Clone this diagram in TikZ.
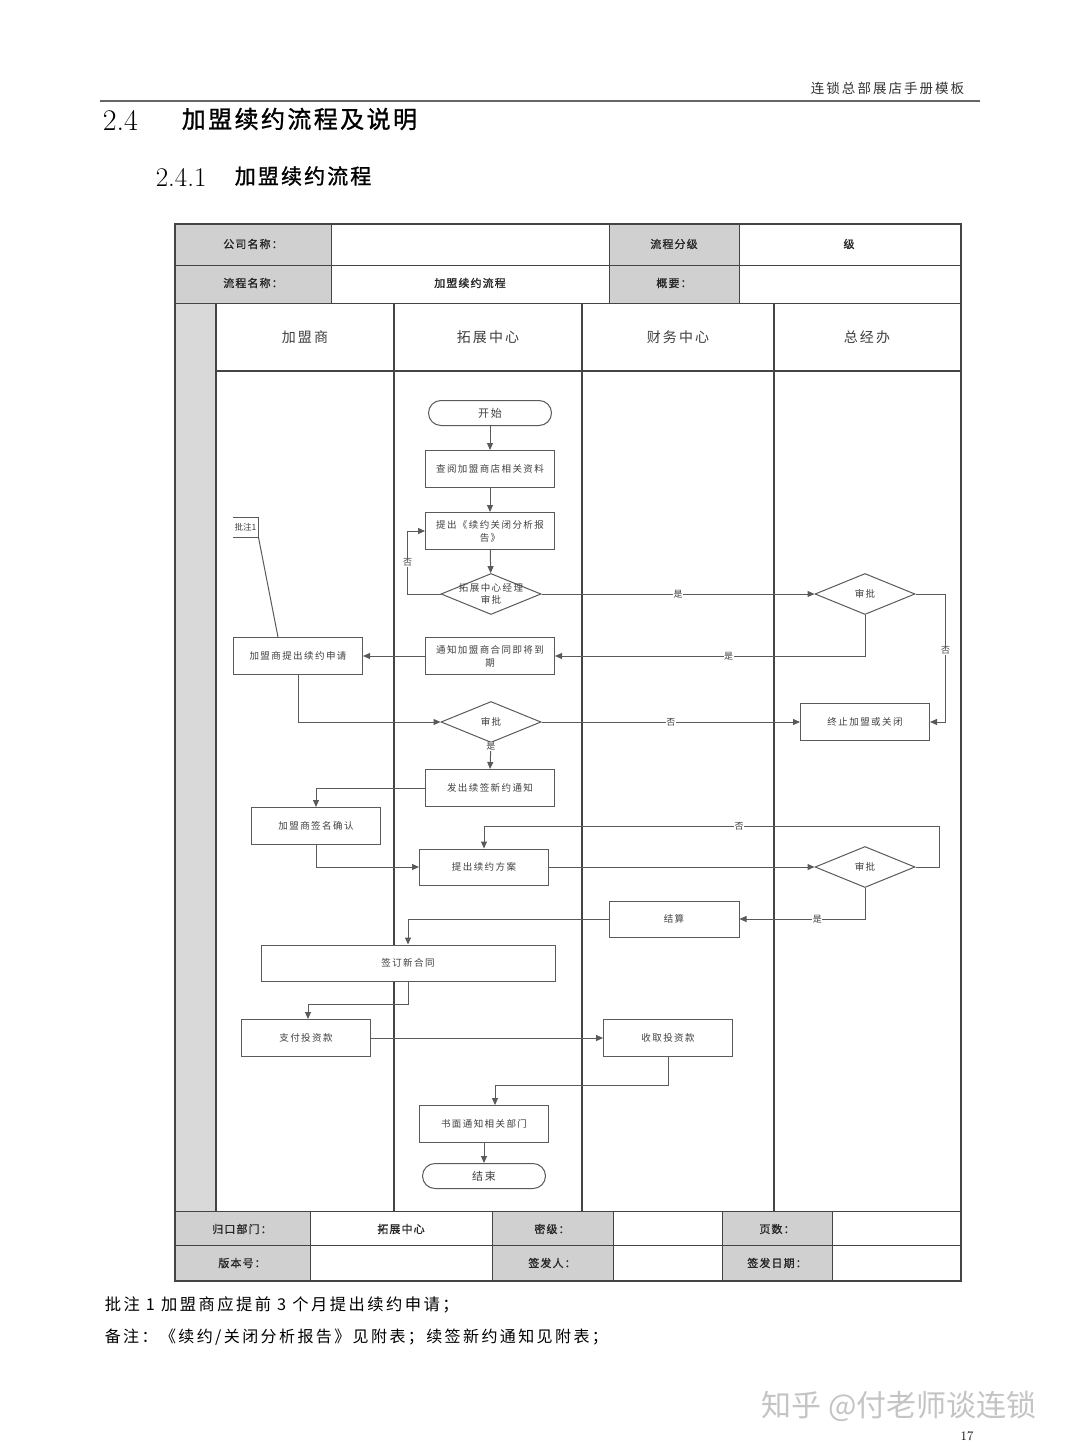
\documentclass[tikz,border=0pt]{standalone}
\usepackage{fontspec}
\usetikzlibrary{shapes.geometric,arrows.meta}
\newfontfamily\cjk{Noto Sans CJK SC}
\newfontfamily\cjks[LetterSpace=15]{Noto Sans CJK SC}
\newfontfamily\cjkb[LetterSpace=10,FakeBold=1.2]{Noto Sans CJK SC}
\definecolor{cellgray}{HTML}{D0D0D0}
\definecolor{stripgray}{HTML}{D9D9D9}
\definecolor{framegray}{HTML}{444444}
\definecolor{flowgray}{HTML}{5A5A5A}
\definecolor{markgray}{HTML}{C4C4C4}

\begin{document}
\begin{tikzpicture}[x=1pt,y=-1pt,line width=1pt,
  cell/.style={font=\cjkb\fontsize{11}{13}\selectfont,text=black!85},
  lane/.style={font=\cjks\fontsize{14}{16}\selectfont,text=black!75},
  stepbox/.style={draw=flowgray,fill=white,minimum width=129pt,minimum height=37pt,inner sep=1pt,
    align=center,font=\cjks\fontsize{9.5}{13}\selectfont,text=black!75},
  term/.style={stepbox,rounded corners=12.5pt,minimum width=123pt,minimum height=25pt,
    font=\cjks\fontsize{11}{13}\selectfont},
  decide/.style={diamond,draw=flowgray,fill=white,minimum width=100pt,minimum height=41pt,inner sep=0pt},
  ask/.style={font=\cjks\fontsize{9.5}{12}\selectfont,text=black!75,align=center},
  flow/.style={draw=flowgray,-{Triangle[length=7pt,width=6pt]}},
  link/.style={draw=flowgray},
  yn/.style={fill=white,inner sep=0.5pt,font=\cjk\fontsize{9}{10}\selectfont,text=black!75}]
 \useasboundingbox (0,0) rectangle (1080,1455);
 \fill[white] (0,0) rectangle (1080,1455);

 \node[anchor=east,font=\cjks\fontsize{13.5}{15}\selectfont,text=black!80] (runhead) at (968,88) {连锁总部展店手册模板};
 \draw[black!60,line width=2pt] (100,101) -- (980,101);
 \node[anchor=west,font=\fontsize{30}{32}\selectfont] (secnum) at (99,120) {2.4};
 \node[anchor=west,font=\cjkb\fontsize{24}{28}\selectfont] (sectitle) at (178,119) {加盟续约流程及说明};
 \node[anchor=west,font=\fontsize{27}{30}\selectfont] (subnum) at (152,177) {2.4.1};
 \node[anchor=west,font=\cjkb\fontsize{21}{24}\selectfont] (subtitle) at (231,176) {加盟续约流程};

 \fill[cellgray] (175,224) rectangle (331,303);
 \fill[cellgray] (609,224) rectangle (739,303);
 \fill[stripgray] (175,303) rectangle (216,1211);
 \foreach \xa/\xb in {175/310,492/613,722/832}
   \fill[cellgray] (\xa,1211) rectangle (\xb,1281);
 \draw[framegray] (175,265) -- (961,265);
 \draw[framegray] (175,303) -- (961,303);
 \foreach \x in {331,609,739}
   \draw[framegray] (\x,224) -- (\x,303);
 \foreach \x in {216,394,582,774}
   \draw[framegray,line width=1.3pt] (\x,303) -- (\x,1211);
 \draw[framegray,line width=2pt] (216,371) -- (961,371);
 \draw[framegray] (175,1211) -- (961,1211);
 \draw[framegray] (175,1245) -- (961,1245);
 \foreach \x in {310,492,613,722,832}
   \draw[framegray] (\x,1211) -- (\x,1281);
 \draw[framegray,line width=1.3pt] (175,224) rectangle (961,1281);

 \foreach \n/\x/\y/\t in {coname/253/244/公司名称：,level/674/244/流程分级,levelval/849/244/级,
   flowname/253/283/流程名称：,flownameval/470/283/加盟续约流程,summary/674/283/概要：,
   owner/242/1229/归口部门：,ownerval/401/1229/拓展中心,secret/552/1229/密级：,pages/777/1229/页数：,
   version/242/1263/版本号：,signer/552/1263/签发人：,signdate/777/1263/签发日期：}
   \node[cell] (\n) at (\x,\y) {\t};
 \foreach \n/\x/\t in {franchisee/305/加盟商,devcenter/488/拓展中心,fincenter/678/财务中心,gmoffice/867/总经办}
   \node[lane] (\n) at (\x,337) {\t};

 \node[term] (start) at (490,413) {开始};
 \node[stepbox] (consult) at (490,469) {查阅加盟商店相关资料};
 \node[stepbox] (report) at (490,531) {提出《续约关闭分析报\\告》};
 \node[decide,label={[ask]center:拓展中心经理\\审批}] (mgr) at (491,594) {};
 \node[decide,label={[ask]center:审批}] (gm1) at (865,594) {};
 \node[stepbox] (notify) at (490,656) {通知加盟商合同即将到\\期};
 \node[stepbox] (apply) at (298,656) {加盟商提出续约申请};
 \node[decide,label={[ask]center:审批}] (chk) at (491,722) {};
 \node[stepbox] (stop) at (865,722) {终止加盟或关闭};
 \node[stepbox] (issue) at (490,788) {发出续签新约通知};
 \node[stepbox] (sign) at (316,826) {加盟商签名确认};
 \node[stepbox,minimum height=36pt] (plan) at (484,867) {提出续约方案};
 \node[decide,label={[ask]center:审批}] (gm2) at (865,867) {};
 \node[stepbox,minimum width=130pt,minimum height=36pt] (settle) at (674,919) {结算};
 \node[stepbox,minimum width=294pt,minimum height=36pt] (contract) at (408,963) {签订新合同};
 \node[stepbox] (pay) at (306,1038) {支付投资款};
 \node[stepbox] (collect) at (668,1038) {收取投资款};
 \node[stepbox] (inform) at (484,1124) {书面通知相关部门};
 \node[term] (finish) at (484,1176) {结束};

 \node[inner sep=0pt,minimum width=25pt,minimum height=19pt,font=\cjk\fontsize{8.5}{10}\selectfont,text=black!75] (note) at (245.5,527.5) {批注1};
 \draw[link] (note.north west) -- (note.north east) -- (note.south east) -- (note.south west);
 \draw[link] (note.south east) -- ([xshift=-20pt]apply.north);

 \draw[flow] (start) -- (consult);
 \draw[flow] (consult) -- (report);
 \draw[flow] (report) -- (mgr);
 \draw[flow] (mgr.west) -- ++(-33,0) |- (report.west) node[pos=0.25,yn] {否};
 \draw[flow] (mgr.east) -- (gm1.west) node[midway,yn] {是};
 \draw[flow] (gm1.south) |- (notify.east) node[pos=0.72,yn] {是};
 \draw[flow] (gm1.east) -- ++(30,0) |- (stop.east) node[pos=0.22,yn] {否};
 \draw[flow] (notify) -- (apply);
 \draw[flow] (apply.south) |- (chk.west);
 \draw[flow] (chk.east) -- (stop.west) node[midway,yn] {否};
 \draw[flow] (chk.south) -- (issue.north) node[pos=0.12,yn] {是};
 \draw[flow] (issue.west) -| (sign.north);
 \draw[flow] (sign.south) |- (plan.west);
 \draw[flow] (plan.east) -- (gm2.west);
 \draw[flow] (gm2.east) -- ++(24,0) -- ++(0,-41) -| (plan.north) node[pos=0.22,yn] {否};
 \draw[flow] (gm2.south) |- (settle.east) node[pos=0.69,yn] {是};
 \draw[flow] (settle.west) -| (contract.north);
 \draw[flow] (contract.south) -- ++(0,23) -| ([xshift=2pt]pay.north);
 \draw[flow] (pay) -- (collect);
 \draw[flow] (collect.south) -- ++(0,28) -| ([xshift=11pt]inform.north);
 \draw[flow] (inform) -- (finish);

 \node[anchor=west,font=\cjks\fontsize{16.3}{18}\selectfont] (remark1) at (101,1305) {批注 1 加盟商应提前 3 个月提出续约申请；};
 \node[anchor=west,font=\cjks\fontsize{16}{18}\selectfont] (remark2) at (101,1337) {备注：《续约/关闭分析报告》见附表；续签新约通知见附表；};
 \node[anchor=west,font=\cjk\fontsize{30}{33}\selectfont,text=markgray] (mark) at (758,1406) {知乎 @付老师谈连锁};
 \node[font=\fontsize{13}{14}\selectfont] (pageno) at (967,1436) {17};
\end{tikzpicture}
\end{document}
